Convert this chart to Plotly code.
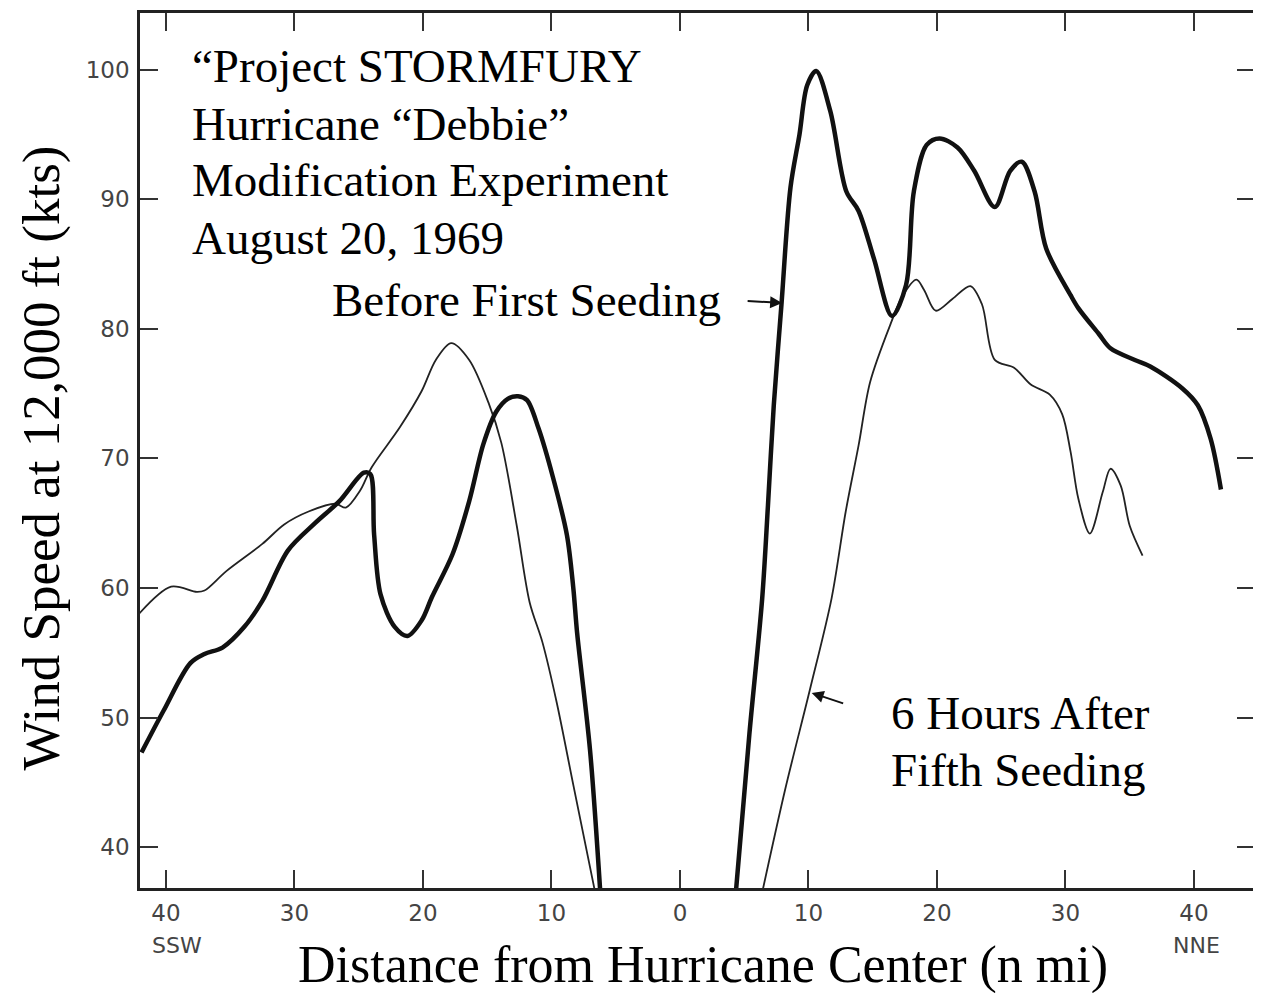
import plotly.graph_objects as go

# ---------------- data (n mi from centre: negative = SSW, positive = NNE) ----------------
before_left_x = [-41.9, -40.2, -38.1, -37.0, -35.6, -33.9, -32.5, -30.5, -28.4, -26.5, -24.6, -24.1,
                 -23.8, -23.3, -22.2, -21.2, -20.1, -19.3, -17.7, -16.4, -15.3, -14.3, -13.4, -12.6,
                 -11.9, -11.0, -9.9, -8.8, -8.3, -8.0, -7.0, -6.2]
before_left_y = [47.3, 50.5, 54.2, 54.9, 55.4, 57.0, 59.0, 62.9, 65.0, 66.7, 68.9, 68.8,
                 64.1, 59.5, 57.0, 56.3, 57.5, 59.3, 62.6, 66.7, 71.1, 73.6, 74.6, 74.8,
                 74.5, 72.3, 68.6, 64.1, 60.0, 56.5, 47.5, 36.5]

before_right_x = [4.35, 5.4, 6.4, 6.85, 7.3, 7.9, 8.6, 9.3, 9.9, 10.6, 11.7, 12.95, 13.9, 15.1, 16.5,
                  17.6, 18.2, 19.2, 20.2, 21.6, 22.9, 24.5, 25.7, 26.6, 27.6, 28.5, 30.4, 31.0,
                  32.6, 33.5, 35.4, 36.6, 39.1, 40.3, 41.3, 42.1]
before_right_y = [36.5, 48.7, 59.2, 66.4, 74.1, 81.9, 90.9, 95.0, 98.8, 99.9, 96.8, 90.6, 89.1, 85.4, 81.0,
                  83.4, 90.6, 94.2, 94.7, 94.0, 92.2, 89.4, 92.2, 92.9, 90.6, 86.2, 82.6, 81.6,
                  79.6, 78.5, 77.6, 77.1, 75.4, 74.1, 71.5, 67.6]

after_left_x = [-42.1, -39.6, -37.6, -37.0, -35.3, -32.5, -30.8, -28.9, -26.8, -26.0, -24.9, -24.0,
                -21.8, -20.1, -19.0, -17.8, -16.4, -14.9, -13.9, -12.7, -11.7, -10.7, -9.6, -8.3, -6.6]
after_left_y = [58.0, 60.1, 59.7, 59.8, 61.3, 63.4, 64.9, 65.9, 66.5, 66.2, 67.5, 69.3,
                72.4, 75.2, 77.6, 78.9, 77.6, 74.3, 71.2, 64.8, 58.9, 55.8, 51.2, 44.8, 36.5]

after_right_x = [6.4, 8.2, 10.1, 11.8, 12.9, 13.9, 14.8, 16.4, 17.3, 18.4, 19.0, 19.9, 21.2, 22.6,
                 23.5, 24.5, 26.0, 27.3, 28.8, 29.75, 30.4, 31.0, 31.9, 32.9, 33.5, 34.3, 35.0, 36.0]
after_right_y = [36.5, 44.5, 52.1, 59.2, 65.9, 71.0, 75.9, 80.4, 82.5, 83.8, 83.0, 81.4, 82.3, 83.3,
                 81.9, 77.6, 77.0, 75.7, 74.9, 73.4, 70.5, 66.9, 64.2, 67.4, 69.2, 67.9, 64.8, 62.5]

x_tick_vals = [-40, -30, -20, -10, 0, 10, 20, 30, 40]
x_tick_text = ["40", "30", "20", "10", "0", "10", "20", "30", "40"]
y_tick_vals = [40, 50, 60, 70, 80, 90, 100]

title_lines = ["\u201cProject STORMFURY", "Hurricane \u201cDebbie\u201d",
               "Modification Experiment", "August 20, 1969"]
label_before = "Before First Seeding"
label_after = ["6 Hours After", "Fifth Seeding"]
x_title = "Distance from Hurricane Center (n mi)"
y_title = "Wind Speed at 12,000 ft (kts)"

# ---------------- figure ----------------
# the page body has an 8 px margin, so the figure is slightly smaller than the window
OFF = 8
W, H = 1261 - OFF, 993 - OFF
L, R, T, B = 132, 6, 2, 105
PW, PH = W - L - R, H - T - B


def px(xp):  # window pixel -> paper fraction
    return (xp - OFF - L) / PW


def py(yp):
    return (H - B - (yp - OFF)) / PH


fig = go.Figure()
thick = dict(color="#111111", width=4.5, shape="spline", smoothing=0.9)
thin = dict(color="#222222", width=1.8, shape="spline", smoothing=0.9)

fig.add_trace(go.Scatter(x=after_left_x, y=after_left_y, mode="lines", line=thin, showlegend=False))
fig.add_trace(go.Scatter(x=after_right_x, y=after_right_y, mode="lines", line=thin, showlegend=False))
fig.add_trace(go.Scatter(x=before_left_x, y=before_left_y, mode="lines", line=thick, showlegend=False))
fig.add_trace(go.Scatter(x=before_right_x, y=before_right_y, mode="lines", line=thick, showlegend=False))

serif = "Liberation Serif, Times New Roman, serif"
ann = []
for t, yy in zip(title_lines, [63, 121, 178, 236]):
    ann.append(dict(text=t, x=px(190), y=py(yy), xref="paper", yref="paper", xanchor="left",
                    yanchor="middle", showarrow=False, font=dict(family=serif, size=47, color="black")))
ann.append(dict(text=label_before, x=px(723), y=py(298), xref="paper", yref="paper", xanchor="right",
                yanchor="middle", showarrow=False, font=dict(family=serif, size=47, color="black")))
for t, yy in zip(label_after, [712, 770]):
    ann.append(dict(text=t, x=px(889), y=py(yy), xref="paper", yref="paper", xanchor="left",
                    yanchor="middle", showarrow=False, font=dict(family=serif, size=47, color="black")))
# arrows pointing at the curves
ann.append(dict(x=7.95, y=82.0, xref="x", yref="y", text="", showarrow=True, ax=-36, ay=-2,
                arrowhead=2, arrowsize=1.2, arrowwidth=2, arrowcolor="#111"))
ann.append(dict(x=10.25, y=51.9, xref="x", yref="y", text="", showarrow=True, ax=33, ay=11,
                arrowhead=2, arrowsize=1.2, arrowwidth=2, arrowcolor="#111"))
# axis titles
ann.append(dict(text=x_title, x=px(703), y=py(965), xref="paper", yref="paper", xanchor="center",
                yanchor="middle", showarrow=False, font=dict(family=serif, size=52, color="black")))
ann.append(dict(text=y_title, x=px(41), y=py(457), xref="paper", yref="paper", xanchor="center",
                yanchor="middle", textangle=-90, showarrow=False,
                font=dict(family=serif, size=53, color="black")))
# direction labels
sans = "DejaVu Sans, Liberation Sans, sans-serif"
ann.append(dict(text="SSW", x=px(177), y=py(946), xref="paper", yref="paper", xanchor="center",
                yanchor="middle", showarrow=False, font=dict(family=sans, size=22, color="#444")))
ann.append(dict(text="NNE", x=px(1196), y=py(946), xref="paper", yref="paper", xanchor="center",
                yanchor="middle", showarrow=False, font=dict(family=sans, size=22, color="#444")))

fig.update_layout(
    width=W, height=H, margin=dict(l=L, r=R, t=T, b=B),
    paper_bgcolor="white", plot_bgcolor="white",
    annotations=ann, showlegend=False,
    xaxis=dict(range=[-42.02, 44.75], tickmode="array", tickvals=x_tick_vals, ticktext=x_tick_text,
               ticks="inside", ticklen=18, tickwidth=2, tickcolor="#333", showline=True,
               linecolor="#222", linewidth=2.5, mirror="ticks", showgrid=False, zeroline=False,
               tickfont=dict(family=sans, size=23, color="#444"), ticklabelstandoff=3),
    yaxis=dict(range=[36.84, 104.38], tickmode="array", tickvals=y_tick_vals,
               ticks="inside", ticklen=18, tickwidth=2, tickcolor="#333", showline=True,
               linecolor="#222", linewidth=2.5, mirror="ticks", showgrid=False, zeroline=False,
               tickfont=dict(family=sans, size=23, color="#444"), ticklabelstandoff=3),
)

fig.write_html("out.html")
